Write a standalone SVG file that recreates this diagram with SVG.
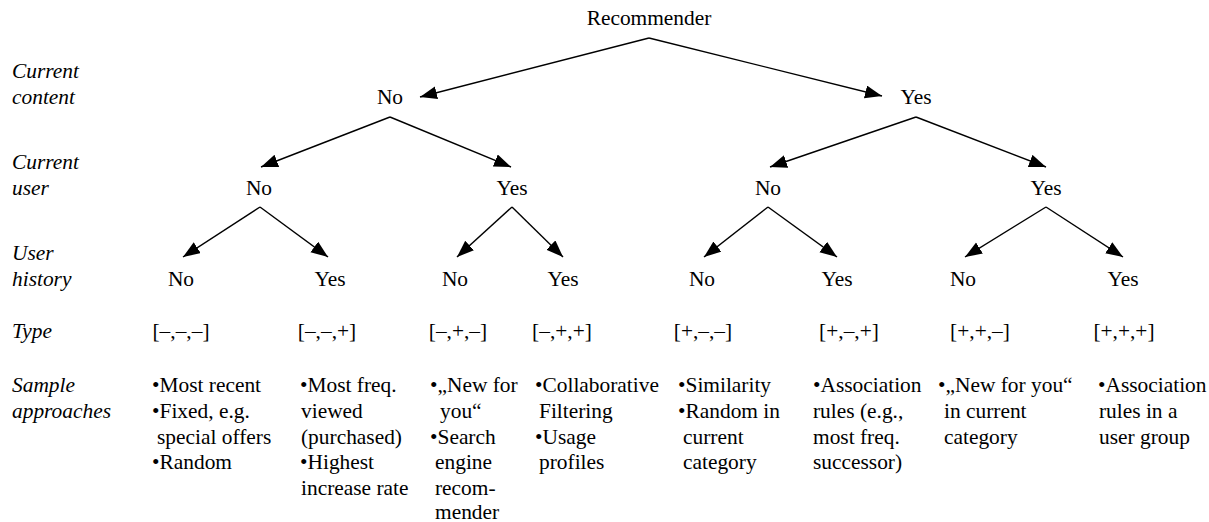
<svg xmlns="http://www.w3.org/2000/svg" width="1209" height="522" viewBox="0 0 1209 522">
<style>
text{font-size:21.4px;fill:#000}
.c{text-anchor:middle}
.lab{font-style:italic}
.edge{stroke:#000;stroke-width:1.4;fill:none;marker-end:url(#ah)}
#row-labels text{font-family:"Times New Roman"}
#root text{font-family:"Times New Roman"}
#content-no text{font-family:"Times New Roman"}
#content-yes text{font-family:"Times New Roman"}
#user-no-1 text{font-family:Times}
#user-yes-1 text{font-family:Times}
#user-no-2 text{font-family:Times}
#user-yes-2 text{font-family:Times}
#leaf-1 text{font-family:"Liberation Serif"}
#leaf-2 text{font-family:Tinos}
#leaf-3 text{font-family:"Times New Roman"}
#leaf-4 text{font-family:Times}
#leaf-5 text{font-family:"Liberation Serif"}
#leaf-6 text{font-family:Tinos}
#leaf-7 text{font-family:"Times New Roman"}
#leaf-8 text{font-family:Times}
</style>
<defs>
<marker id="ah" markerUnits="userSpaceOnUse" markerWidth="18" markerHeight="14" refX="17" refY="6.5" orient="auto">
<path d="M0,0 L17,6.5 L0,13 z" fill="#000"/>
</marker>
</defs>
<rect width="1209" height="522" fill="#fff"/>
<g id="row-labels">
<text class="lab" x="12" y="78">Current</text>
<text class="lab" x="12" y="104">content</text>
<text class="lab" x="12" y="169">Current</text>
<text class="lab" x="12" y="195">user</text>
<text class="lab" x="12" y="260">User</text>
<text class="lab" x="12" y="286">history</text>
<text class="lab" x="12" y="338">Type</text>
<text class="lab" x="12" y="392">Sample</text>
<text class="lab" x="12" y="418">approaches</text>
</g>
<g id="connectors">
<line class="edge" x1="649" y1="38" x2="420" y2="97"/>
<line class="edge" x1="649" y1="38" x2="882" y2="96"/>
<line class="edge" x1="390" y1="117" x2="261" y2="167"/>
<line class="edge" x1="390" y1="117" x2="511" y2="167"/>
<line class="edge" x1="916" y1="117" x2="770" y2="167"/>
<line class="edge" x1="916" y1="117" x2="1046" y2="167"/>
<line class="edge" x1="260" y1="207" x2="183" y2="257"/>
<line class="edge" x1="260" y1="207" x2="328" y2="257"/>
<line class="edge" x1="512" y1="207" x2="457" y2="257"/>
<line class="edge" x1="512" y1="207" x2="563" y2="257"/>
<line class="edge" x1="768" y1="207" x2="704" y2="257"/>
<line class="edge" x1="768" y1="207" x2="837" y2="257"/>
<line class="edge" x1="1046" y1="207" x2="965" y2="257"/>
<line class="edge" x1="1046" y1="207" x2="1123" y2="257"/>
</g>
<g id="root"><text class="c" x="649" y="25">Recommender</text></g>
<g id="content-no"><text class="c" x="390" y="104">No</text></g>
<g id="content-yes"><text class="c" x="916" y="104">Yes</text></g>
<g id="user-no-1"><text class="c" x="259" y="195">No</text></g>
<g id="user-yes-1"><text class="c" x="512" y="195">Yes</text></g>
<g id="user-no-2"><text class="c" x="768" y="195">No</text></g>
<g id="user-yes-2"><text class="c" x="1046" y="195">Yes</text></g>
<g id="leaf-1">
<text class="c" x="181" y="286">No</text>
<text class="c" x="181" y="338">[–,–,–]</text>
<text x="152" y="392">•Most recent</text>
<text x="152" y="418">•Fixed, e.g.</text>
<text x="157" y="443.5">special offers</text>
<text x="152" y="469">•Random</text>
</g>
<g id="leaf-2">
<text class="c" x="330" y="286">Yes</text>
<text class="c" x="327" y="338">[–,–,+]</text>
<text x="300" y="392">•Most freq.</text>
<text x="301" y="418">viewed</text>
<text x="301" y="443.5">(purchased)</text>
<text x="300" y="469">•Highest</text>
<text x="301" y="495">increase rate</text>
</g>
<g id="leaf-3">
<text class="c" x="455" y="286">No</text>
<text class="c" x="458" y="338">[–,+,–]</text>
<text x="430" y="392">•„New for</text>
<text x="440" y="418">you“</text>
<text x="430" y="443.5">•Search</text>
<text x="435" y="469">engine</text>
<text x="435" y="494.5">recom-</text>
<text x="435" y="519">mender</text>
</g>
<g id="leaf-4">
<text class="c" x="563" y="286">Yes</text>
<text class="c" x="562" y="338">[–,+,+]</text>
<text x="535" y="392">•Collaborative</text>
<text x="539" y="418">Filtering</text>
<text x="535" y="443.5">•Usage</text>
<text x="539" y="469">profiles</text>
</g>
<g id="leaf-5">
<text class="c" x="702" y="286">No</text>
<text class="c" x="703" y="338">[+,–,–]</text>
<text x="678" y="392">•Similarity</text>
<text x="678" y="418">•Random in</text>
<text x="683" y="443.5">current</text>
<text x="683" y="469">category</text>
</g>
<g id="leaf-6">
<text class="c" x="837" y="286">Yes</text>
<text class="c" x="849" y="338">[+,–,+]</text>
<text x="813" y="392">•Association</text>
<text x="813" y="418">rules (e.g.,</text>
<text x="813" y="443.5">most freq.</text>
<text x="813" y="469">successor)</text>
</g>
<g id="leaf-7">
<text class="c" x="963" y="286">No</text>
<text class="c" x="980" y="338">[+,+,–]</text>
<text x="938" y="392">•„New for you“</text>
<text x="944" y="418">in current</text>
<text x="944" y="443.5">category</text>
</g>
<g id="leaf-8">
<text class="c" x="1123" y="286">Yes</text>
<text class="c" x="1124" y="338">[+,+,+]</text>
<text x="1098" y="392">•Association</text>
<text x="1099" y="418">rules in a</text>
<text x="1099" y="443.5">user group</text>
</g>
</svg>
